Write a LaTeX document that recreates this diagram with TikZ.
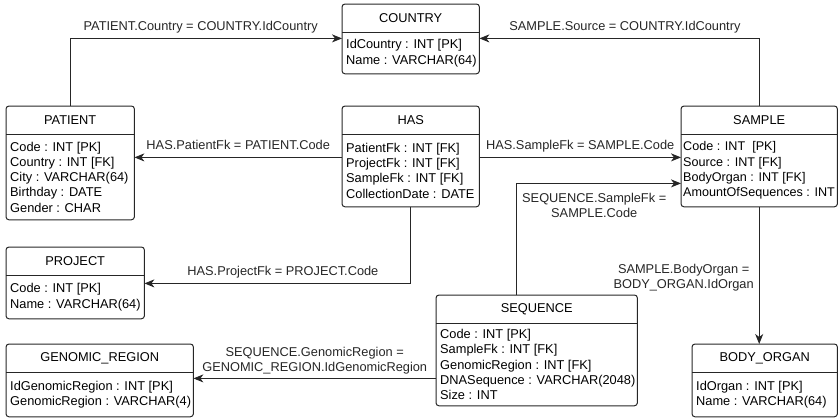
\documentclass[tikz,border=0pt]{standalone}
\usepackage{fontspec}
\setmainfont{Liberation Sans}
\usetikzlibrary{arrows.meta}

\begin{document}
\begin{tikzpicture}[x=1pt,y=-1pt,>={Stealth[length=10pt,width=8pt,inset=3pt]},
  every node/.style={font=\fontsize{12.8pt}{15.3pt}\selectfont},
  head/.style={anchor=north west,inner sep=0pt,minimum height=28pt},
  body/.style={anchor=north west,align=left,inner xsep=4pt,inner ysep=0pt},
  frame/.style={line width=1pt,black!85,rounded corners=3pt},
  rel/.style={->,line width=1pt,black!85},
  lbl/.style={inner sep=0pt,text depth=3pt}]
  \useasboundingbox (0,0) rectangle (839,418);
  % tables: title row on top, fields below
  \node[head,minimum width=137pt] (country) at (342,4) {COUNTRY};
  \node[body,minimum height=41pt] (country-b) at (country.south west)
    {IdCountry : INT [PK]\\Name : VARCHAR(64)};
  \node[head,minimum width=128pt] (patient) at (6,106) {PATIENT};
  \node[body,minimum height=85pt] (patient-b) at (patient.south west)
    {Code : INT [PK]\\Country : INT [FK]\\City : VARCHAR(64)\\Birthday : DATE\\Gender : CHAR};
  \node[head,minimum width=137pt] (has) at (342,106) {HAS};
  \node[body,minimum height=72pt] (has-b) at (has.south west)
    {PatientFk : INT [FK]\\ProjectFk : INT [FK]\\SampleFk : INT [FK]\\CollectionDate : DATE};
  \node[head,minimum width=156pt] (sample) at (681,106) {SAMPLE};
  \node[body,minimum height=72pt,inner xsep=2pt,
    font=\fontsize{12.6pt}{15.3pt}\selectfont] (sample-b) at (sample.south west)
    {Code : INT\ \ [PK]\\Source : INT [FK]\\BodyOrgan : INT [FK]\\AmountOfSequences : INT};
  \node[head,minimum width=138pt] (project) at (6,247) {PROJECT};
  \node[body,minimum height=43pt] (project-b) at (project.south west)
    {Code : INT [PK]\\Name : VARCHAR(64)};
  \node[head,minimum width=201pt] (sequence) at (436,295) {SEQUENCE};
  \node[body,minimum height=82pt] (sequence-b) at (sequence.south west)
    {Code : INT [PK]\\SampleFk : INT [FK]\\GenomicRegion : INT [FK]\\DNASequence : VARCHAR(2048)\\Size : INT};
  \node[head,minimum width=187pt] (genomic) at (6,344) {GENOMIC\_REGION};
  \node[body,minimum height=44pt] (genomic-b) at (genomic.south west)
    {IdGenomicRegion : INT [PK]\\GenomicRegion : VARCHAR(4)};
  \node[head,minimum width=145pt] (bodyorgan) at (692,344) {BODY\_ORGAN};
  \node[body,minimum height=44pt] (bodyorgan-b) at (bodyorgan.south west)
    {IdOrgan : INT [PK]\\Name : VARCHAR(64)};

  \foreach \tbl in {country,patient,has,sample,project,sequence,genomic,bodyorgan} {
    \draw[frame] (\tbl.north west) rectangle (\tbl.east |- \tbl-b.south);
    \draw[frame] (\tbl.south west) -- (\tbl.south east);
  }

  % where the relations meet the tables
  \coordinate (cty-l) at ([yshift=-6pt]country.south west);
  \coordinate (cty-r) at ([yshift=-6pt]country.south east);
  \coordinate (has-l) at ([yshift=-23pt]has.south west);
  \coordinate (has-r) at ([yshift=-23pt]has.south east);
  \coordinate (prj-r) at ([yshift=-8pt]project.south east);
  \coordinate (smp-l) at ([yshift=-49pt]sample.south west);
  \coordinate (seq-l) at ([yshift=-55pt]sequence.south west);

  \draw[rel] (patient.north) |- (cty-l)
    node[lbl,pos=0.74,above=4pt] {PATIENT.Country = COUNTRY.IdCountry};
  \draw[rel] (sample.north) |- (cty-r)
    node[lbl,pos=0.74,above=4pt] {SAMPLE.Source = COUNTRY.IdCountry};
  \draw[rel] (has-l) -- (has-l -| patient.east)
    node[lbl,midway,above=4pt] {HAS.PatientFk = PATIENT.Code};
  \draw[rel] (has-r) -- (has-r -| sample.west)
    node[lbl,midway,above=4pt] {HAS.SampleFk = SAMPLE.Code};
  \draw[rel] (has.south |- has-b.south) |- (prj-r)
    node[lbl,pos=0.74,above=4pt] {HAS.ProjectFk = PROJECT.Code};
  \draw[rel] ([xshift=-20pt]sequence.north) |- (smp-l)
    node[lbl,pos=0.5,anchor=north west,xshift=5pt,yshift=-9pt,align=center]
    {SEQUENCE.SampleFk =\\SAMPLE.Code};
  \draw[rel] (sample.south |- sample-b.south) -- (sample.south |- bodyorgan.north)
    node[lbl,pos=0.52,left=5pt,align=center] {SAMPLE.BodyOrgan =\\BODY\_ORGAN.IdOrgan};
  \draw[rel] (seq-l) -- (seq-l -| genomic.east)
    node[lbl,midway,above=3pt,align=center]
    {SEQUENCE.GenomicRegion =\\GENOMIC\_REGION.IdGenomicRegion};
\end{tikzpicture}
\end{document}
